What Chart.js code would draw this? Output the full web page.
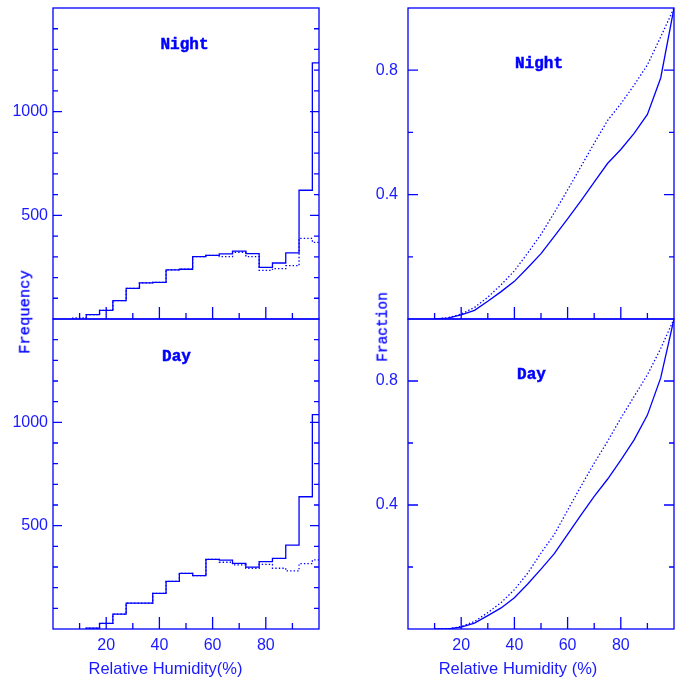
<!DOCTYPE html>
<html>
<head>
<meta charset="utf-8">
<title>Relative humidity - night / day</title>
<script src="https://cdn.jsdelivr.net/npm/chart.js@4.4.0/dist/chart.umd.min.js"></script>
<style>
  html, body { margin: 0; padding: 0; background: #fff; }
  #stage { position: relative; width: 684px; height: 678px; overflow: hidden; }
  #stage canvas { position: absolute; left: 0; top: 0; }
  .lbl { position: absolute; color: #0000ff; white-space: nowrap; line-height: 1; }
  .panel-title { font: bold 16px "Liberation Mono", "DejaVu Sans Mono", monospace; transform: translateX(-50%); -webkit-text-stroke: 0.5px #0000ff; }
  .ytitle { font-family: "Liberation Mono", "DejaVu Sans Mono", monospace; transform: translate(-50%, -50%) rotate(-90deg); -webkit-text-stroke: 0.3px #0000ff; }
  .xtitle { font: 16.5px "Liberation Sans", Arial, sans-serif; transform: translateX(-50%); color: #1a1aff; }
</style>
</head>
<body>
<div id="stage">
  <canvas id="nightHist" width="684" height="678"></canvas>
  <canvas id="dayHist" width="684" height="678"></canvas>
  <canvas id="nightFrac" width="684" height="678"></canvas>
  <canvas id="dayFrac" width="684" height="678"></canvas>

  <div class="lbl panel-title" style="left:184.5px; top:36px;">Night</div>
  <div class="lbl panel-title" style="left:176.5px; top:347.5px;">Day</div>
  <div class="lbl panel-title" style="left:539px; top:54.5px;">Night</div>
  <div class="lbl panel-title" style="left:531.5px; top:365.5px;">Day</div>

  <div class="lbl ytitle" style="left:26px; top:312px; font-size:15.5px;">Frequency</div>
  <div class="lbl ytitle" style="left:383px; top:327px; font-size:14.5px;">Fraction</div>

  <div class="lbl xtitle" style="left:165.5px; top:658.5px;">Relative Humidity(%)</div>
  <div class="lbl xtitle" style="left:518px; top:658.5px;">Relative Humidity (%)</div>
</div>

<script>
// ---- data ----
// histogram bins, 5% wide, centred on these values
const binCenters = [10, 15, 20, 25, 30, 35, 40, 45, 50, 55, 60, 65, 70, 75, 80, 85, 90, 95, 100];
const BIN_HALF = 2.5;

const nightSolid  = [null, 21, 42, 89, 148, 174, 177, 237, 240, 301, 307, 314, 327, 315, 249, 270, 319, 621, 1235];
const nightDotted = [5, 21, 42, 89, 148, 174, 177, 237, 240, 301, 307, 301, 322, 301, 235, 243, 257, 389, 370];
const daySolid    = [null, 4, 27, 72, 125, 125, 172, 230, 269, 258, 337, 333, 318, 299, 326, 342, 406, 640, 1037];
const dayDotted   = [null, 4, 27, 72, 125, 125, 172, 230, 269, 258, 337, 323, 310, 294, 313, 294, 281, 316, 334];

// cumulative fraction curves
const fracX = [10, 15, 20, 25, 30, 35, 40, 45, 50, 55, 60, 65, 70, 75, 80, 85, 90, 95, 100];
const nightFracSolid  = [0, 0.003, 0.013, 0.028, 0.057, 0.088, 0.121, 0.165, 0.21, 0.266, 0.322, 0.38, 0.44, 0.50, 0.545, 0.597, 0.658, 0.775, 1.0];
const nightFracDotted = [0, 0.004, 0.016, 0.037, 0.07, 0.11, 0.155, 0.212, 0.272, 0.342, 0.415, 0.49, 0.565, 0.638, 0.692, 0.752, 0.817, 0.907, 1.0];
const dayFracSolid    = [0, 0, 0.006, 0.019, 0.043, 0.068, 0.101, 0.145, 0.193, 0.243, 0.305, 0.367, 0.428, 0.483, 0.545, 0.61, 0.69, 0.81, 1.0];
const dayFracDotted   = [0, 0, 0.008, 0.024, 0.053, 0.085, 0.127, 0.18, 0.245, 0.305, 0.383, 0.46, 0.535, 0.605, 0.68, 0.75, 0.82, 0.905, 1.0];

// ticks
const humidityTicks  = [10, 20, 30, 40, 50, 60, 70, 80, 90];
const humidityLabels = [20, 40, 60, 80];
const freqTicks  = [100, 200, 300, 400, 500, 600, 700, 800, 900, 1000, 1100, 1200, 1300, 1400];
const freqLabels = [500, 1000];
const fracTicks  = [0.2, 0.4, 0.6, 0.8];
const fracLabels = [0.4, 0.8];

// ---- style ----
const W = 684, H = 678;
const LINE = '#0000ff';
const TEXT = '#1a1aff';
const TICK_FONT = { family: '"Liberation Sans", Arial, sans-serif', size: 16 };
const DOTS = [1.4, 2.1];

function stepPoints(values) {
    const pts = [];
    binCenters.forEach((c, i) => {
        if (values[i] == null) return;
        if (!pts.length) pts.push({ x: c - BIN_HALF, y: 0 });
        pts.push({ x: c - BIN_HALF, y: values[i] });
    });
    // right edge of the last bin
    pts.push({ x: binCenters[binCenters.length - 1] + BIN_HALF, y: values[values.length - 1] });
    return pts;
}

function curvePoints(values) {
    return fracX.map((x, i) => ({ x, y: values[i] }));
}

// frame + inward tick marks, taken from the chart's own scales
const framePlugin = {
    id: 'frame',
    afterDatasetsDraw(chart, args, opts) {
        const { ctx, chartArea: a, scales: { x, y } } = chart;
        ctx.save();
        ctx.strokeStyle = LINE;
        ctx.lineWidth = 1.3;
        ctx.strokeRect(a.left, a.top, a.right - a.left, a.bottom - a.top);
        ctx.beginPath();
        x.ticks.forEach(t => {
            const px = x.getPixelForValue(t.value);
            const len = humidityLabels.includes(t.value) ? 12 : 6;
            ctx.moveTo(px, a.bottom);
            ctx.lineTo(px, a.bottom - len);
        });
        y.ticks.forEach(t => {
            const py = y.getPixelForValue(t.value);
            const len = opts.majors.includes(t.value) ? opts.majorLen : 5;
            ctx.moveTo(a.left, py);
            ctx.lineTo(a.left + len, py);
            ctx.moveTo(a.right, py);
            ctx.lineTo(a.right - len, py);
        });
        ctx.stroke();
        ctx.restore();
    }
};

function makePanel(id, p) {
    const ctx = document.getElementById(id).getContext('2d');
    return new Chart(ctx, {
        type: 'line',
        data: { datasets: p.datasets },
        options: {
            responsive: false,
            animation: false,
            events: [],
            layout: {
                autoPadding: false,
                padding: { left: 0, top: p.top, right: W - p.right, bottom: H - p.bottom - p.xAxisH }
            },
            plugins: {
                legend: { display: false },
                tooltip: { enabled: false },
                frame: { majors: p.yLabels, majorLen: p.majorLen }
            },
            elements: { point: { radius: 0 }, line: { borderWidth: 1.3, borderColor: LINE, tension: 0 } },
            scales: {
                x: {
                    type: 'linear',
                    min: 0,
                    max: 100,
                    grid: { display: false, drawTicks: false },
                    border: { display: false },
                    afterBuildTicks: s => { s.ticks = humidityTicks.map(v => ({ value: v })); },
                    afterFit: s => { s.height = p.xAxisH; s.paddingLeft = 0; s.paddingRight = 0; },
                    ticks: {
                        display: p.xAxisH > 0,
                        autoSkip: false,
                        maxRotation: 0,
                        padding: 7,
                        color: TEXT,
                        font: TICK_FONT,
                        callback: v => humidityLabels.includes(v) ? String(v) : ''
                    }
                },
                y: {
                    type: 'linear',
                    min: 0,
                    max: p.ymax,
                    grid: { display: false, drawTicks: false },
                    border: { display: false },
                    afterBuildTicks: s => { s.ticks = p.yTicks.map(v => ({ value: v })); },
                    afterFit: s => { s.width = p.left; s.paddingTop = 0; s.paddingBottom = 0; },
                    ticks: {
                        autoSkip: false,
                        padding: p.yPad,
                        color: TEXT,
                        font: TICK_FONT,
                        callback: v => p.yLabels.includes(v) ? p.fmt(v) : ''
                    }
                }
            }
        },
        plugins: [framePlugin]
    });
}

const histSets = (solid, dotted) => [
    { data: stepPoints(dotted), stepped: true, borderDash: DOTS },
    { data: stepPoints(solid), stepped: true }
];
const fracSets = (solid, dotted) => [
    { data: curvePoints(dotted), borderDash: DOTS },
    { data: curvePoints(solid) }
];

const histCommon = { left: 53, right: 319, ymax: 1500, yTicks: freqTicks, yLabels: freqLabels, yPad: 5, majorLen: 9, fmt: v => String(v) };
const fracCommon = { left: 408, right: 674, ymax: 1, yTicks: fracTicks, yLabels: fracLabels, yPad: 10, majorLen: 10, fmt: v => v.toFixed(1) };

makePanel('nightHist', { ...histCommon, top: 8, bottom: 319, xAxisH: 0, datasets: histSets(nightSolid, nightDotted) });
makePanel('dayHist',   { ...histCommon, top: 319, bottom: 629, xAxisH: 30, datasets: histSets(daySolid, dayDotted) });
makePanel('nightFrac', { ...fracCommon, top: 8, bottom: 319, xAxisH: 0, datasets: fracSets(nightFracSolid, nightFracDotted) });
makePanel('dayFrac',   { ...fracCommon, top: 319, bottom: 629, xAxisH: 30, datasets: fracSets(dayFracSolid, dayFracDotted) });
</script>
</body>
</html>
